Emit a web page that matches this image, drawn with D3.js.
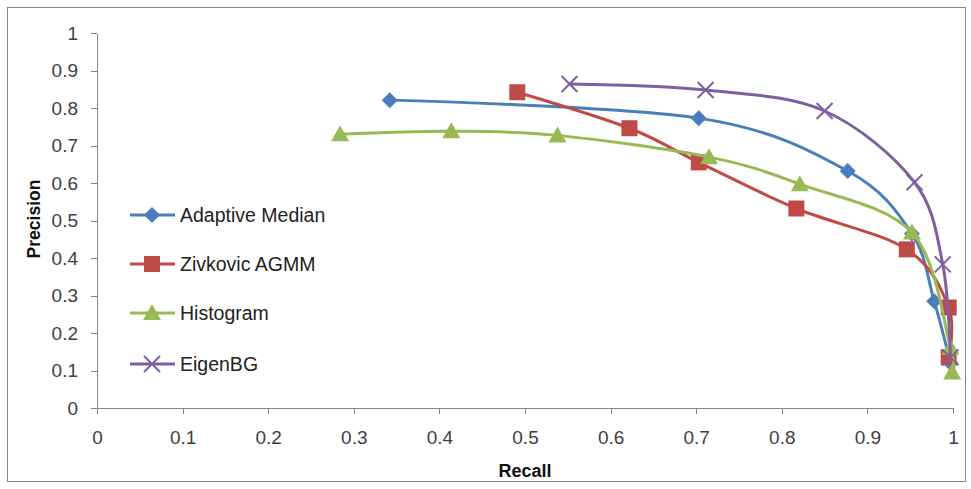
<!DOCTYPE html>
<meta charset="utf-8">
<style>
body { margin: 0; background: #fff; font-family: "Liberation Sans", "DejaVu Sans", sans-serif; }
.axis path, .axis line { stroke: #868686; stroke-width: 1; shape-rendering: crispEdges; fill: none; }
.axis text { font-size: 19px; fill: #404040; font-family: "Liberation Sans", sans-serif; }
.series { fill: none; stroke-width: 3; }
.legend text { font-size: 19.5px; fill: #222; }
.title { font-weight: bold; fill: #111; }
</style>
<body>
<script src="https://d3js.org/d3.v7.min.js"></script>
<script>
// values: [recall, precision]
var adaptiveMedian = [[0.342,0.821],[0.703,0.773],[0.877,0.632],[0.952,0.465],[0.978,0.285],[0.997,0.12]];
var zivkovic = [[0.491,0.842],[0.622,0.746],[0.703,0.655],[0.817,0.532],[0.946,0.423],[0.995,0.268],[0.995,0.135]];
var histogram = [[0.284,0.730],[0.414,0.738],[0.538,0.727],[0.715,0.669],[0.821,0.597],[0.952,0.468],[0.997,0.161],[0.999,0.095]];
var eigenBG = [[0.552,0.864],[0.711,0.848],[0.850,0.792],[0.955,0.602],[0.988,0.383],[0.997,0.135]];
var seriesNames = ["Adaptive Median", "Zivkovic AGMM", "Histogram", "EigenBG"];
var xTicks = [0,0.1,0.2,0.3,0.4,0.5,0.6,0.7,0.8,0.9,1];
var yTicks = [0,0.1,0.2,0.3,0.4,0.5,0.6,0.7,0.8,0.9,1];

var colors = ["#4A7EBB", "#BE4B48", "#98B954", "#7D60A0"];
var shapes = ["diamond", "square", "triangle", "cross"];
var allData = [adaptiveMedian, zivkovic, histogram, eigenBG];

var W = 971, H = 489;
var margin = {top: 33, right: 19, bottom: 81, left: 97};
var width = 953 - margin.left, height = 408 - margin.top;

var svg = d3.select("body").append("svg").attr("width", W).attr("height", H);

// outer chart border
svg.append("rect").attr("x", 7.5).attr("y", 7.5).attr("width", 958).attr("height", 474)
  .attr("fill", "#fff").attr("stroke", "#868686").attr("stroke-width", 1);

var g = svg.append("g").attr("transform", "translate(" + margin.left + "," + margin.top + ")");

var x = d3.scaleLinear().domain([0, 1]).range([0, width]);
var y = d3.scaleLinear().domain([0, 1]).range([height, 0]);

var fmt = function(d) { return d === 0 || d === 1 ? String(d) : d3.format(".1f")(d); };

g.append("g").attr("class", "axis")
  .attr("transform", "translate(0," + height + ")")
  .call(d3.axisBottom(x).tickValues(xTicks).tickFormat(fmt).tickSize(6).tickSizeOuter(0).tickPadding(17));

g.append("g").attr("class", "axis")
  .call(d3.axisLeft(y).tickValues(yTicks).tickFormat(fmt).tickSize(6).tickSizeOuter(0).tickPadding(13));

svg.append("text").attr("class", "title").attr("text-anchor", "middle")
  .style("font-size", "18px")
  .attr("x", 525).attr("y", 477).text("Recall");
svg.append("text").attr("class", "title").attr("text-anchor", "middle")
  .style("font-size", "17.5px")
  .attr("transform", "translate(40,219) rotate(-90)").text("Precision");

var line = d3.line()
  .x(function(d) { return x(d[0]); })
  .y(function(d) { return y(d[1]); })
  .curve(d3.curveCatmullRom.alpha(0));

function drawMarker(sel, shape, color) {
  if (shape === "diamond") {
    sel.append("path").attr("d", "M0,-8L8,0L0,8L-8,0Z").attr("fill", color);
  } else if (shape === "square") {
    sel.append("rect").attr("x", -8).attr("y", -8).attr("width", 16).attr("height", 16).attr("fill", color);
  } else if (shape === "triangle") {
    sel.append("path").attr("d", "M0,-9L9,7L-9,7Z").attr("fill", color);
  } else {
    sel.append("path").attr("d", "M-8,-8L8,8M-8,8L8,-8").attr("stroke", color).attr("stroke-width", 2).attr("fill", "none");
  }
}

allData.forEach(function(data, i) {
  g.append("path").attr("class", "series").attr("stroke", colors[i]).attr("d", line(data));
  data.forEach(function(d) {
    var m = g.append("g").attr("transform", "translate(" + x(d[0]) + "," + y(d[1]) + ")");
    drawMarker(m, shapes[i], colors[i]);
  });
});

var legend = svg.append("g").attr("class", "legend");
var legendY = [215, 264, 313, 364];
seriesNames.forEach(function(name, i) {
  var row = legend.append("g").attr("transform", "translate(0," + legendY[i] + ")");
  row.append("line").attr("x1", 130).attr("x2", 175).attr("y1", 0).attr("y2", 0)
    .attr("stroke", colors[i]).attr("stroke-width", 3);
  var m = row.append("g").attr("transform", "translate(152,0)");
  drawMarker(m, shapes[i], colors[i]);
  row.append("text").attr("x", 180).attr("y", 7).text(name);
});
</script>
